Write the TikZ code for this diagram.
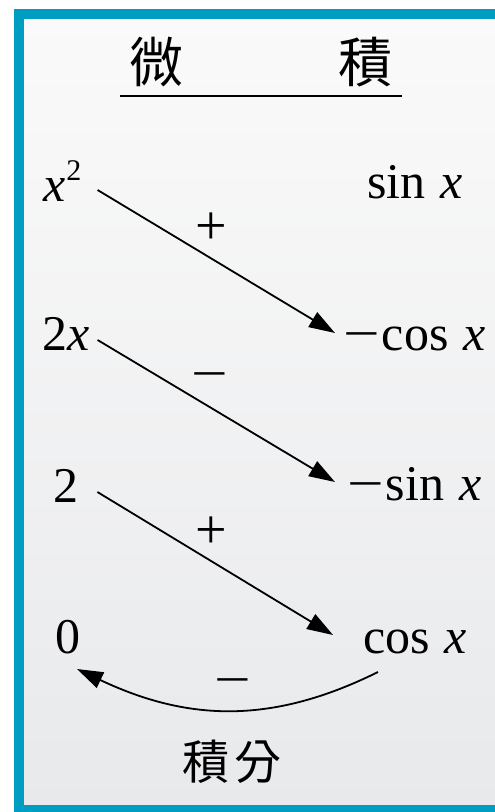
\documentclass[tikz,border=0pt]{standalone}
\usepackage{graphicx}
\usepackage{fontspec}
\setmainfont{Liberation Serif}
\newfontfamily\cjk{Noto Sans CJK TC}
\usetikzlibrary{arrows.meta,calc}
\definecolor{frameblue}{RGB}{0,157,194}
\definecolor{bgtop}{RGB}{250,250,250}
\definecolor{bgbot}{RGB}{232,233,235}
\newcommand{\wideminus}{\scalebox{1.3}[1]{−}}
\begin{document}
\begin{tikzpicture}[x=1pt,y=-1pt,
  mathtxt/.style={font=\fontsize{50}{50}\selectfont, inner sep=0pt, anchor=base west},
  plustxt/.style={font=\fontsize{56}{56}\selectfont, inner sep=0pt, anchor=base},
  minustxt/.style={font=\fontsize{50}{50}\selectfont, inner sep=0pt, anchor=base},
  headtxt/.style={font=\cjk\fontsize{54}{54}\selectfont, inner sep=0pt},
  arr/.style={-{Triangle[length=26pt,width=17pt]}, line width=1.8pt},
]
\useasboundingbox (0,0) rectangle (495,812);
\fill[white] (0,0) rectangle (495,812);
\shade[top color=bgtop, bottom color=bgbot] (19,14) rectangle (510,812);
\draw[frameblue, line width=10pt] (19,14) rectangle (520,810);

% header
\node[headtxt] (wei) at (156,62) {微};
\node[headtxt] (ji) at (365,62) {積};
\coordinate (ul1) at (120,96);
\coordinate (ul2) at (402,96);
\draw[line width=1.4pt] (ul1) -- (ul2);

% entries
\node[mathtxt] (x2) at (43,201) {\textit{x}\hspace{1pt}\raisebox{21pt}{\fontsize{30}{30}\selectfont 2}};
\node[mathtxt] (sx) at (367,198) {sin\hspace{0.3em}\textit{x}};
\node[mathtxt] (mcx) at (343,350) {\wideminus\hspace{2pt}cos\hspace{0.3em}\textit{x}};
\node[mathtxt] (tx) at (42,350) {2\textit{x}};
\node[mathtxt] (msx) at (347,500) {\wideminus\hspace{2pt}sin\hspace{0.3em}\textit{x}};
\node[mathtxt] (two) at (53,502) {2};
\node[mathtxt] (cx) at (363,653) {cos\hspace{0.3em}\textit{x}};
\node[mathtxt] (zero) at (55,653) {0};

% arrows
\draw[arr] ($(x2.base east)+(16,-11)$) -- ($(mcx.base west)+(-8,-17)$);
\draw[arr] ($(tx.base east)+(8,-10)$) -- ($(msx.base west)+(-12,-18)$);
\draw[arr] ($(two.base east)+(19,-10)$) -- ($(cx.base west)+(-30,-18)$);
\draw[arr] ($(cx.base west)+(15,19)$) .. controls (273,724) and (189,722) .. ($(zero.base west)+(22,16)$);

% signs
\node[plustxt] (p1) at (211,244) {+};
\node[minustxt] (m1) at (210,390) {\wideminus};
\node[plustxt] (p2) at (211,548) {+};
\node[minustxt] (m2) at (233,696) {\wideminus};

% bottom label
\node[font=\cjk\fontsize{47}{47}\selectfont, inner sep=0pt] (jf) at (232,762) {積\hspace{6pt}分};
\end{tikzpicture}
\end{document}
